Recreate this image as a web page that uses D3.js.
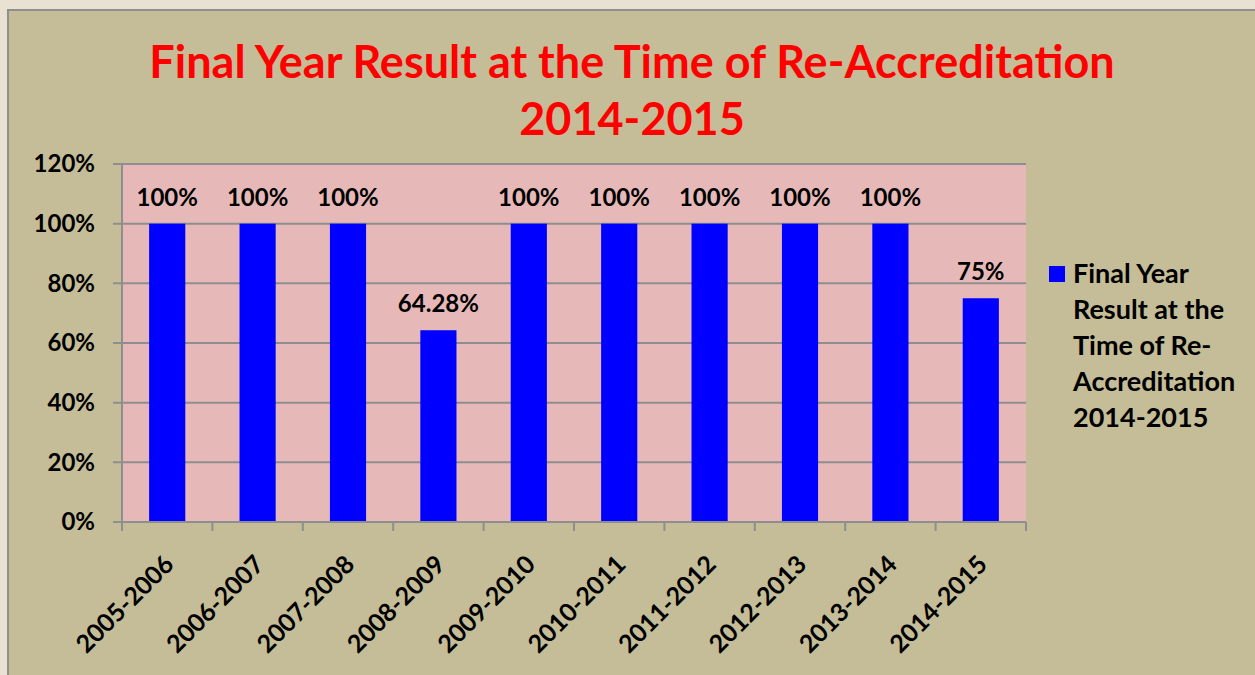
<!DOCTYPE html>
<html lang="en">
<head>
  <meta charset="UTF-8">
  <title>Final Year Result at the Time of Re-Accreditation 2014-2015</title>
  <script src="https://d3js.org/d3.v7.min.js"></script>
  <style>
    body { margin: 0; background: #e9e2d2; }
    svg { display: block; font-family: Lato, "Open Sans", sans-serif; }
  </style>
</head>
<body>
  <svg width="1255" height="675"></svg>
  <script>
    const years = ["2005-2006", "2006-2007", "2007-2008", "2008-2009", "2009-2010",
                   "2010-2011", "2011-2012", "2012-2013", "2013-2014", "2014-2015"];
    const results = [100, 100, 100, 64.28, 100, 100, 100, 100, 100, 75];
    const valueLabels = ["100%", "100%", "100%", "64.28%", "100%", "100%", "100%", "100%", "100%", "75%"];
    const yTicks = [0, 20, 40, 60, 80, 100, 120];
    const titleLines = ["Final Year Result at the Time of Re-Accreditation", "2014-2015"];
    const legendLines = ["Final Year", "Result at the", "Time of Re-", "Accreditation", "2014-2015"];

    const svg = d3.select("svg");
    const margin = { top: 164, left: 122, right: 1026, bottom: 522 };

    // panel
    svg.append("rect")
      .attr("x", 8).attr("y", 10).attr("width", 1260).attr("height", 680)
      .attr("fill", "#c4bd97").attr("stroke", "#8e8e8e").attr("stroke-width", 2);

    // title
    svg.selectAll(".title")
      .data(titleLines)
      .enter().append("text")
      .attr("x", 632)
      .attr("y", (d, i) => 78 + i * 57)
      .attr("text-anchor", "middle")
      .attr("fill", "#ff0000")
      .attr("font-weight", "bold")
      .attr("font-size", 45)
      .text(d => d);

    const x = d3.scaleBand().domain(years).range([margin.left, margin.right]).paddingInner(0.6).paddingOuter(0.3);
    const y = d3.scaleLinear().domain([0, 120]).range([margin.bottom, margin.top]);

    svg.append("rect")
      .attr("x", margin.left).attr("y", margin.top)
      .attr("width", margin.right - margin.left).attr("height", margin.bottom - margin.top)
      .attr("fill", "#e6b9b8");

    // gridlines
    svg.selectAll(".grid")
      .data(yTicks)
      .enter().append("line")
      .attr("x1", margin.left - 9).attr("x2", margin.right)
      .attr("y1", d => y(d)).attr("y2", d => y(d))
      .attr("stroke", "#8e8e8e").attr("stroke-width", 2);

    // y axis
    svg.append("line")
      .attr("x1", margin.left).attr("x2", margin.left)
      .attr("y1", margin.top).attr("y2", margin.bottom)
      .attr("stroke", "#8e8e8e").attr("stroke-width", 2);

    svg.selectAll(".ylab")
      .data(yTicks)
      .enter().append("text")
      .attr("x", 95)
      .attr("y", d => y(d))
      .attr("dy", "0.35em")
      .attr("text-anchor", "end")
      .attr("font-weight", "bold")
      .attr("font-size", 24)
      .text(d => d + "%");

    // x ticks at band boundaries
    const step = (margin.right - margin.left) / years.length;
    svg.selectAll(".xtick")
      .data(d3.range(years.length + 1))
      .enter().append("line")
      .attr("x1", d => margin.left + d * step).attr("x2", d => margin.left + d * step)
      .attr("y1", margin.bottom).attr("y2", margin.bottom + 9)
      .attr("stroke", "#8e8e8e").attr("stroke-width", 2);

    // bars
    svg.selectAll(".bar")
      .data(results)
      .enter().append("rect")
      .attr("x", (d, i) => x(years[i]))
      .attr("y", d => y(d))
      .attr("width", x.bandwidth())
      .attr("height", d => y(0) - y(d))
      .attr("fill", "#0000ff");

    svg.selectAll(".val")
      .data(results)
      .enter().append("text")
      .attr("x", (d, i) => x(years[i]) + x.bandwidth() / 2)
      .attr("y", d => y(d) - 18)
      .attr("text-anchor", "middle")
      .attr("font-weight", "bold")
      .attr("font-size", 24)
      .text((d, i) => valueLabels[i]);

    // x axis line
    svg.append("line")
      .attr("x1", margin.left).attr("x2", margin.right)
      .attr("y1", margin.bottom).attr("y2", margin.bottom)
      .attr("stroke", "#8e8e8e").attr("stroke-width", 2);

    svg.selectAll(".xlab")
      .data(years)
      .enter().append("text")
      .attr("transform", d => `translate(${x(d) + x.bandwidth() / 2 + 8},${margin.bottom + 44}) rotate(-45)`)
      .attr("text-anchor", "end")
      .attr("font-weight", "bold")
      .attr("font-size", 25)
      .text(d => d);

    // legend
    svg.append("rect")
      .attr("x", 1049).attr("y", 266).attr("width", 16).attr("height", 16)
      .attr("fill", "#0000ff");

    svg.selectAll(".legend")
      .data(legendLines)
      .enter().append("text")
      .attr("x", 1073)
      .attr("y", (d, i) => 274 + i * 36)
      .attr("dy", "0.35em")
      .attr("font-weight", "bold")
      .attr("font-size", 27)
      .text(d => d);
  </script>
</body>
</html>
